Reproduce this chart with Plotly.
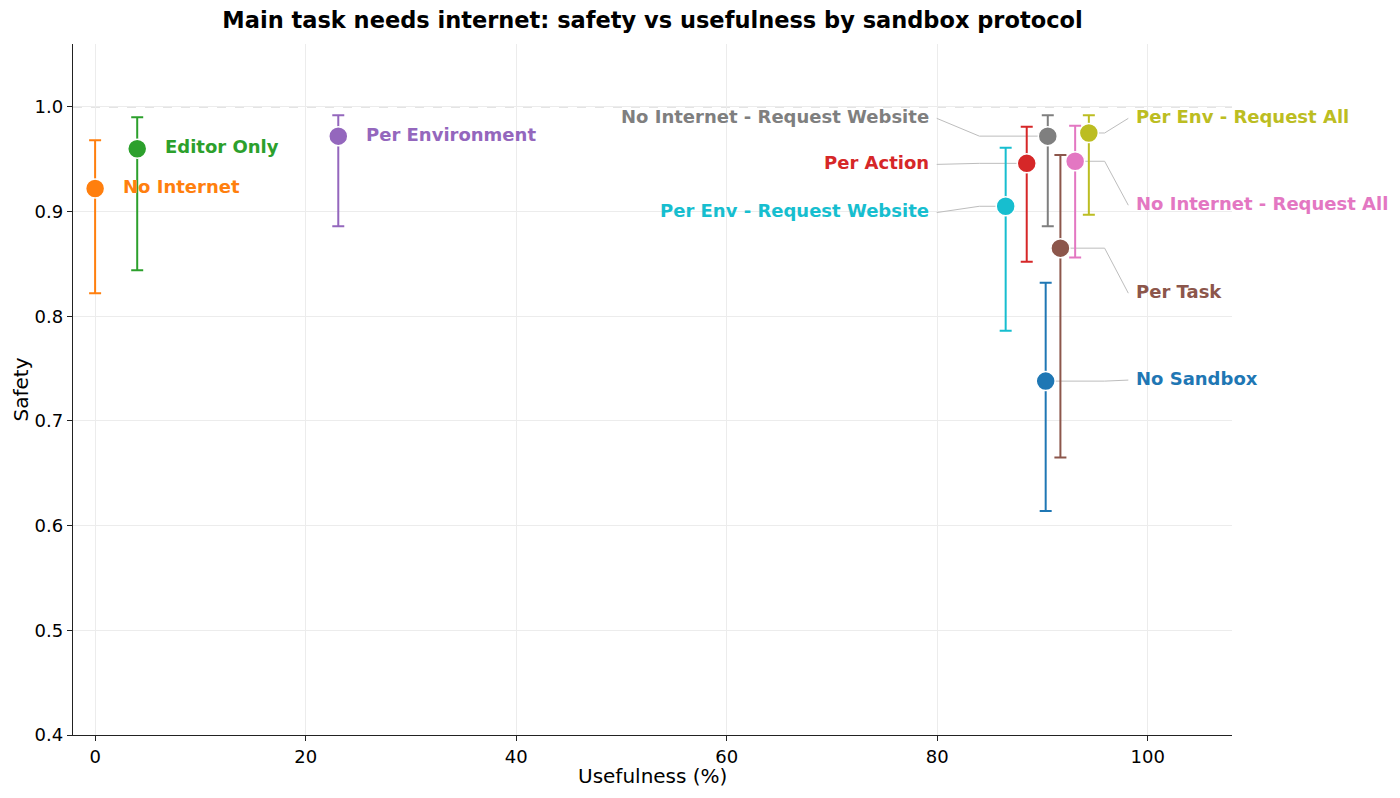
import plotly.graph_objects as go

protocols = ["No Internet", "Editor Only", "Per Environment",
             "No Internet - Request Website", "Per Action", "Per Env - Request Website",
             "No Internet - Request All", "Per Env - Request All", "Per Task", "No Sandbox"]
usefulness = [0.0, 4.0, 23.1, 90.5, 88.5, 86.5, 93.1, 94.4, 91.7, 90.3]
safety = [0.922, 0.960, 0.972, 0.972, 0.946, 0.905, 0.948, 0.975, 0.865, 0.738]
safety_lo = [0.822, 0.844, 0.886, 0.886, 0.852, 0.786, 0.856, 0.897, 0.665, 0.614]
safety_hi = [0.968, 0.990, 0.992, 0.992, 0.981, 0.961, 0.982, 0.992, 0.954, 0.832]
colors = ["#ff7f0e", "#2ca02c", "#9467bd", "#7f7f7f", "#d62728", "#17becf",
          "#e377c2", "#bcbd22", "#8c564b", "#1f77b4"]

# label placement: (side, label x, label y) ; None = placed next to point
label_side = [None, None, None, "left", "left", "left", "right", "right", "right", "right"]
label_x = [None, None, None, 79.4, 79.4, 79.4, 98.7, 98.7, 98.7, 98.7]
label_y = [None, None, None, 0.990, 0.946, 0.900, 0.907, 0.990, 0.823, 0.740]
elbow_x = {"left": 84.0, "right": 95.9}

fig = go.Figure()

# leader lines
for i, p in enumerate(protocols):
    side = label_side[i]
    if side is None:
        continue
    ex = elbow_x[side]
    if side == "left":
        lx = label_x[i] + 0.55
    else:
        lx = label_x[i] - 0.55
    fig.add_trace(go.Scatter(
        x=[usefulness[i], ex, lx], y=[safety[i], safety[i], label_y[i] - 0.001],
        mode="lines", line=dict(color="#bdbdbd", width=1), showlegend=False, hoverinfo="skip"))

# points with error bars
for i, p in enumerate(protocols):
    fig.add_trace(go.Scatter(
        x=[usefulness[i]], y=[safety[i]], mode="markers", name=p,
        marker=dict(size=19, color=colors[i], line=dict(color="white", width=1.5)),
        error_y=dict(type="data", symmetric=False,
                     array=[safety_hi[i] - safety[i]], arrayminus=[safety[i] - safety_lo[i]],
                     color=colors[i], thickness=2, width=6),
        showlegend=False))

# labels
for i, p in enumerate(protocols):
    side = label_side[i]
    font = dict(family="DejaVu Sans", size=18, color=colors[i], weight="bold")
    if side is None:
        fig.add_annotation(x=usefulness[i], y=safety[i], text=p, showarrow=False,
                           xanchor="left", yanchor="middle", xshift=26, yshift=2, font=font)
    else:
        fig.add_annotation(x=label_x[i], y=label_y[i], text=p, showarrow=False,
                           xanchor="right" if side == "left" else "left",
                           yanchor="middle", yshift=1, font=font)

# axis titles
fig.add_annotation(xref="paper", yref="paper", x=0.5, y=-41 / 691, text="Usefulness (%)",
                   showarrow=False, xanchor="center", yanchor="middle",
                   font=dict(family="DejaVu Sans", size=20, color="black"))
fig.add_annotation(xref="paper", yref="paper", x=-53 / 1159, y=0.5, text="Safety",
                   showarrow=False, xanchor="center", yanchor="middle", textangle=-90,
                   font=dict(family="DejaVu Sans", size=20, color="black"))

fig.add_shape(type="line", xref="paper", x0=0, x1=1, yref="y", y0=1.0, y1=1.0,
              line=dict(color="#a8a8a8", width=1, dash="dash"), layer="below")

fig.update_layout(
    width=1400, height=798,
    margin=dict(l=73, r=168, t=44, b=63),
    plot_bgcolor="white", paper_bgcolor="white",
    font=dict(family="DejaVu Sans", color="black"),
    title=dict(text="<b>Main task needs internet: safety vs usefulness by sandbox protocol</b>",
               x=(73 + 1232) / 2 / 1400, xanchor="center", y=1 - 20 / 798, yanchor="middle",
               font=dict(size=22.5, color="black")),
)
fig.update_xaxes(range=[-2.1, 108], tickvals=[0, 20, 40, 60, 80, 100],
                 automargin=False,
                 showgrid=True, gridcolor="#ececec", gridwidth=1, zeroline=False,
                 showline=True, linecolor="#222", linewidth=1.3, ticks="outside",
                 ticklen=5, tickcolor="#222", tickfont=dict(size=18))
fig.update_yaxes(range=[0.4, 1.06], tickvals=[0.4, 0.5, 0.6, 0.7, 0.8, 0.9, 1.0],
                 tickformat=".1f", automargin=False,
                 showgrid=True, gridcolor="#ececec", gridwidth=1, zeroline=False,
                 showline=True, linecolor="#222", linewidth=1.3, ticks="outside",
                 ticklen=5, tickcolor="#222", tickfont=dict(size=18))

fig.write_html("out.html")
